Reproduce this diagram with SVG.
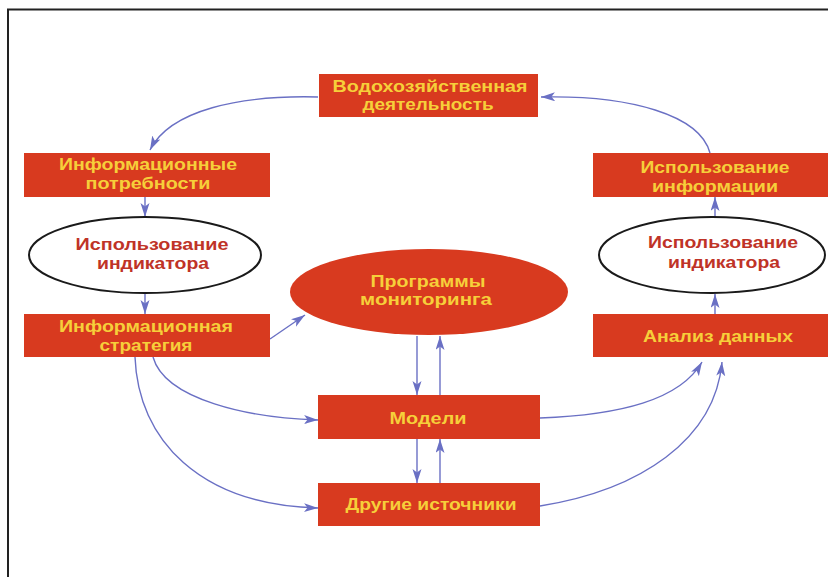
<svg xmlns="http://www.w3.org/2000/svg" width="828" height="577" viewBox="0 0 828 577">
<defs>
<marker id="ah" markerUnits="userSpaceOnUse" markerWidth="16" markerHeight="10" refX="14" refY="4.5" orient="auto">
<path d="M0,0 L14,4.5 L0,9 L3.5,4.5 z" fill="#6A70C4"/>
</marker>
<style>
.box{fill:#D83A1F}
.red{fill:#D83A1F}
.oval{fill:#fff;stroke:#1a1a1a;stroke-width:2}
.t{font-family:"Liberation Sans",Arial,sans-serif;font-weight:bold;font-size:16.5px;text-anchor:middle;fill:#F6CF3A}
.e{fill:#BF3327}
.c{fill:none;stroke:#6A70C4;stroke-width:1.4;marker-end:url(#ah)}
</style>
</defs>
<rect width="828" height="577" fill="#fff"/>
<path d="M8,577 L8,9.5 L828,9.5" fill="none" stroke="#222" stroke-width="2"/>
<g id="connectors">
<path class="c" d="M318,97 C240,95 170,110 150,150"/>
<path class="c" d="M710,153 C700,115 630,95 541,97"/>
<path class="c" d="M145,197 L145,217"/>
<path class="c" d="M145,293 L145,314"/>
<path class="c" d="M270,339 L305,315"/>
<path class="c" d="M417,336 L417,395"/>
<path class="c" d="M440,395 L440,336"/>
<path class="c" d="M417,439 L417,483"/>
<path class="c" d="M440,483 L440,439"/>
<path class="c" d="M153,357 C165,400 250,418 318,420"/>
<path class="c" d="M135,357 C138,440 200,505 318,508"/>
<path class="c" d="M540,418 C620,415 680,400 702,362"/>
<path class="c" d="M540,506 C640,490 715,440 722,362"/>
<path class="c" d="M715,314 L715,294"/>
<path class="c" d="M715,217 L715,197"/>
</g>
<g id="water">
<rect class="box" x="319" y="74" width="219" height="43"/>
<text class="t" x="430" y="92" textLength="195" lengthAdjust="spacingAndGlyphs">Водохозяйственная</text>
<text class="t" x="428" y="110" textLength="131" lengthAdjust="spacingAndGlyphs">деятельность</text>
</g>
<g id="needs">
<rect class="box" x="24" y="153" width="246" height="44"/>
<text class="t" x="148" y="170" textLength="178" lengthAdjust="spacingAndGlyphs">Информационные</text>
<text class="t" x="148" y="189" textLength="125" lengthAdjust="spacingAndGlyphs">потребности</text>
</g>
<g id="indicatorLeft">
<ellipse class="oval" cx="145" cy="255" rx="116" ry="38"/>
<text class="t e" x="152" y="250" textLength="153" lengthAdjust="spacingAndGlyphs">Использование</text>
<text class="t e" x="153" y="269" textLength="112" lengthAdjust="spacingAndGlyphs">индикатора</text>
</g>
<g id="strategy">
<rect class="box" x="24" y="314" width="246" height="43"/>
<text class="t" x="146" y="332" textLength="174" lengthAdjust="spacingAndGlyphs">Информационная</text>
<text class="t" x="146" y="351" textLength="93" lengthAdjust="spacingAndGlyphs">стратегия</text>
</g>
<g id="useInfo">
<rect class="box" x="593" y="153" width="235" height="44"/>
<text class="t" x="715" y="173" textLength="149" lengthAdjust="spacingAndGlyphs">Использование</text>
<text class="t" x="715" y="192" textLength="126" lengthAdjust="spacingAndGlyphs">информации</text>
</g>
<g id="indicatorRight">
<ellipse class="oval" cx="712" cy="255" rx="113" ry="38"/>
<text class="t e" x="723" y="248" textLength="150" lengthAdjust="spacingAndGlyphs">Использование</text>
<text class="t e" x="724" y="268" textLength="112" lengthAdjust="spacingAndGlyphs">индикатора</text>
</g>
<g id="analysis">
<rect class="box" x="593" y="314" width="235" height="43"/>
<text class="t" x="718" y="342" textLength="150" lengthAdjust="spacingAndGlyphs">Анализ данных</text>
</g>
<g id="programs">
<ellipse class="red" cx="429" cy="292" rx="139" ry="43"/>
<text class="t" x="428" y="287" textLength="115" lengthAdjust="spacingAndGlyphs">Программы</text>
<text class="t" x="426" y="305" textLength="132" lengthAdjust="spacingAndGlyphs">мониторинга</text>
</g>
<g id="models">
<rect class="box" x="318" y="395" width="222" height="44"/>
<text class="t" x="428" y="424" textLength="77" lengthAdjust="spacingAndGlyphs">Модели</text>
</g>
<g id="others">
<rect class="box" x="318" y="483" width="222" height="43"/>
<text class="t" x="431" y="510" textLength="171" lengthAdjust="spacingAndGlyphs">Другие источники</text>
</g>
</svg>
